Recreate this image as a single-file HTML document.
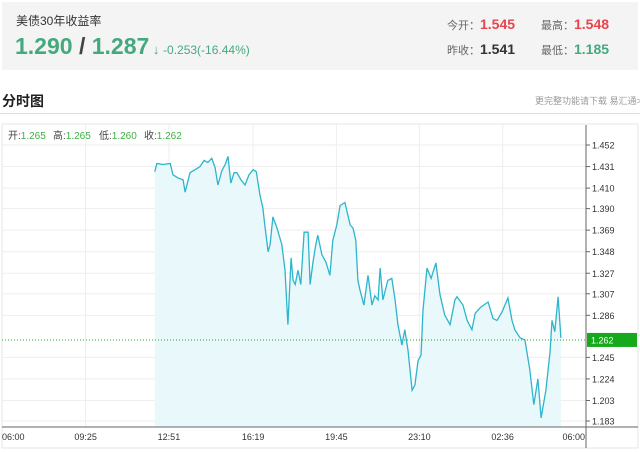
<!DOCTYPE html>
<html><head><meta charset="utf-8"><style>
body{margin:0;width:640px;height:453px;background:#fff;font-family:"Liberation Sans","Noto Sans CJK SC",sans-serif;overflow:hidden;position:relative}
.a{position:absolute;white-space:nowrap}
</style></head><body>
<div class="a" style="left:2px;top:2px;width:636px;height:68px;background:#f4f4f4"></div>
<div class="a" style="left:16px;top:12px;font-size:12px;color:#333">美债30年收益率</div>
<div class="a" style="left:15px;top:33px;font-size:23px;font-weight:bold;color:#45a97e">1.290<span style="color:#444"> / </span>1.287<span style="font-size:13px;font-weight:normal"> ↓ </span><span style="font-size:12px;font-weight:normal">-0.253(-16.44%)</span></div>
<div class="a" style="left:447px;top:16px;font-size:11px;color:#666">今开：<b style="font-size:14px;color:#e8454b">1.545</b></div>
<div class="a" style="left:541px;top:16px;font-size:11px;color:#666">最高：<b style="font-size:14px;color:#e8454b">1.548</b></div>
<div class="a" style="left:447px;top:41px;font-size:11px;color:#666">昨收：<b style="font-size:14px;color:#333">1.541</b></div>
<div class="a" style="left:541px;top:41px;font-size:11px;color:#666">最低：<b style="font-size:14px;color:#45a97e">1.185</b></div>
<div class="a" style="left:2px;top:91px;font-size:14px;font-weight:bold;color:#222">分时图</div>
<div class="a" style="left:535px;top:94px;font-size:9px;color:#999">更完整功能请下载 易汇通&gt;</div>
<div class="a" style="left:0;top:113px;width:640px;height:1px;background:#ddd"></div>
<svg class="a" style="left:0;top:0" width="640" height="453">
<rect x="2" y="124" width="636" height="324" fill="none" stroke="#e6e6e6"/>
<g id="grid"></g><g id="series"></g><g id="axes"></g>
<g font-size="10" fill="#444">
<text x="8" y="139">开:<tspan fill="#3cb043">1.265</tspan></text>
<text x="53" y="139">高:<tspan fill="#3cb043">1.265</tspan></text>
<text x="99" y="139">低:<tspan fill="#3cb043">1.260</tspan></text>
<text x="144" y="139">收:<tspan fill="#3cb043">1.262</tspan></text>
</g>
</svg>
<script>
const xTickLabels=["06:00","09:25","12:51","16:19","19:45","23:10","02:36","06:00"];
const xTickMinutes=[0,205,411,619,825,1030,1236,1440];
const yTickValues=[1.452,1.431,1.410,1.390,1.369,1.348,1.327,1.307,1.286,1.245,1.224,1.203,1.183];
const lastPrice=1.262;
const minutes=[376,381,396,414,421,433,446,451,463,476,488,498,507,517,525,532,542,550,557,564,572,579,589,599,609,619,627,636,643,648,656,661,668,678,690,698,705,713,718,723,730,737,745,755,760,767,774,779,789,799,809,816,826,834,846,859,866,873,878,883,893,903,913,920,928,933,940,952,962,970,977,987,994,1002,1012,1019,1027,1034,1039,1049,1059,1071,1081,1093,1106,1118,1123,1138,1148,1160,1168,1182,1200,1212,1222,1234,1249,1259,1266,1279,1291,1303,1313,1323,1331,1343,1353,1358,1365,1373,1380];
const yields=[1.426,1.434,1.433,1.434,1.423,1.420,1.418,1.406,1.425,1.428,1.431,1.437,1.435,1.439,1.430,1.413,1.427,1.433,1.441,1.415,1.425,1.425,1.418,1.413,1.423,1.428,1.426,1.403,1.391,1.374,1.348,1.355,1.382,1.371,1.355,1.330,1.277,1.342,1.320,1.316,1.330,1.316,1.367,1.367,1.316,1.338,1.355,1.364,1.345,1.338,1.325,1.359,1.374,1.393,1.396,1.374,1.371,1.359,1.320,1.311,1.296,1.325,1.296,1.305,1.301,1.332,1.301,1.320,1.322,1.301,1.277,1.257,1.272,1.252,1.213,1.218,1.242,1.247,1.291,1.332,1.322,1.337,1.306,1.286,1.277,1.301,1.304,1.296,1.281,1.272,1.288,1.294,1.299,1.283,1.281,1.289,1.303,1.281,1.272,1.264,1.262,1.233,1.199,1.224,1.186,1.213,1.250,1.281,1.270,1.304,1.264];
const X=m=>2.7+m*0.4045, Y=v=>145+(1.452-v)*1026;
const NS="http://www.w3.org/2000/svg";
function mk(p,t,a){const e=document.createElementNS(NS,t);for(const k in a)e.setAttribute(k,a[k]);p.appendChild(e);return e;}
const grid=document.getElementById('grid'),ser=document.getElementById('series'),ax=document.getElementById('axes');
yTickValues.forEach(v=>{const l=mk(grid,'line',{x1:2,x2:586,y1:Y(v),y2:Y(v),stroke:'#eee'});


const t=mk(ax,'text',{x:592,y:Y(v)+3.5,'font-size':9,fill:'#333'});t.textContent=v.toFixed(3);


mk(ax,'line',{x1:586,x2:590,y1:Y(v),y2:Y(v),stroke:'#666'});});
xTickMinutes.forEach((m,i)=>{const x=X(m);
if(i>0&&i<7){const l=mk(grid,'line',{x1:x,x2:x,y1:124,y2:427,stroke:'#eee'});

}
const anchor=i==0?'start':(i==7?'end':'middle');
const t=mk(ax,'text',{x:i==0?2:(i==7?585:x),y:440,'font-size':9,fill:'#333','text-anchor':anchor});t.textContent=xTickLabels[i];

});
let d='';minutes.forEach((m,i)=>{d+=(i?'L':'M')+X(m).toFixed(1)+','+Y(yields[i]).toFixed(1);});
const area=mk(ser,'path',{d:d+'L'+X(minutes[minutes.length-1])+',427L'+X(minutes[0])+',427Z',fill:'#e9f8fa'});


const line=mk(ser,'path',{d:d,fill:'none',stroke:'#2cb5cc','stroke-width':1.3});


const pl=mk(ax,'line',{x1:2,x2:638,y1:Y(lastPrice),y2:Y(lastPrice),stroke:'#2ea12e','stroke-dasharray':'1,2'});


mk(ax,'line',{x1:2,x2:638,y1:427,y2:427,stroke:'#666'});
mk(ax,'line',{x1:586,x2:586,y1:125,y2:448,stroke:'#666'});
const bx=mk(ax,'rect',{x:587,y:Y(lastPrice)-7,width:50,height:14,fill:'#16a91c'});


const bt=mk(ax,'text',{x:591,y:Y(lastPrice)+3.5,'font-size':9,fill:'#fff'});bt.textContent=lastPrice.toFixed(3);


</script>
</body></html>
